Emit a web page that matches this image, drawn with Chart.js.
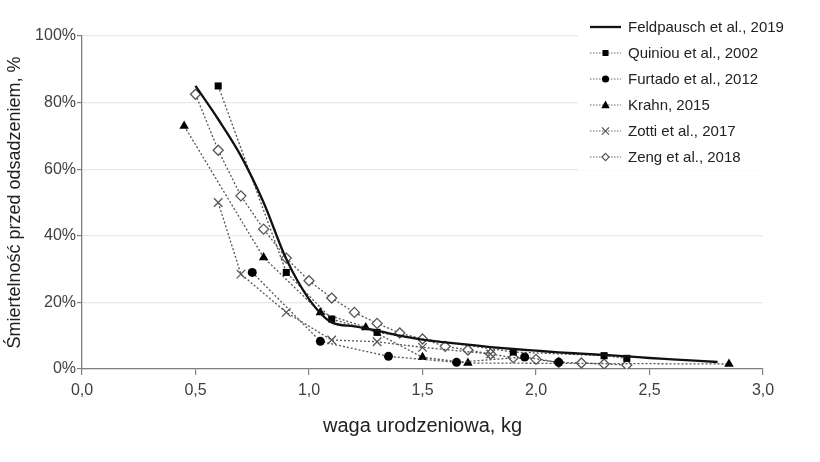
<!DOCTYPE html>
<html>
<head>
<meta charset="utf-8">
<script src="https://cdn.jsdelivr.net/npm/chart.js@4.4.1/dist/chart.umd.min.js"></script>
<style>
html,body{margin:0;padding:0;background:#fff;}
#wrap{width:820px;height:462px;}
</style>
</head>
<body>
<div id="wrap"><canvas id="c" width="820" height="462"></canvas></div>
<script>
// ---- data ----
const seriesNames = ["Feldpausch et al., 2019","Quiniou et al., 2002","Furtado et al., 2012","Krahn, 2015","Zotti et al., 2017","Zeng et al., 2018"];

const feldX = [0.5,0.6,0.7,0.8,0.9,1.0,1.1,1.2,1.3,1.4,1.5,1.6,1.7,1.8,1.9,2.0,2.1,2.2,2.3,2.4,2.5,2.6,2.7,2.8];
const feldY = [85,75,64,50,33,21,14,12.8,11.5,10,8.8,8,7.3,6.6,6,5.5,5,4.6,4.2,3.8,3.3,2.9,2.5,2.1];

const quiX = [0.6,0.9,1.1,1.3,1.9,2.3,2.4];
const quiY = [85,29,15,11,5.1,4,3.2];

const furX = [0.75,1.05,1.35,1.65,1.95,2.1];
const furY = [29,8.3,3.8,2,3.6,2];

const kraX = [0.45,0.8,1.05,1.25,1.5,1.7,2.85];
const kraY = [73,33.5,17,12.5,3.5,1.8,1.5];

const zotX = [0.6,0.7,0.9,1.1,1.3,1.5,1.8];
const zotY = [50,28.5,17,8.7,8.2,6.5,4.5];

const zenX = [0.5,0.6,0.7,0.8,0.9,1.0,1.1,1.2,1.3,1.4,1.5,1.6,1.7,1.8,1.9,2.0,2.1,2.2,2.3,2.4];
const zenY = [82.5,65.7,52,42,33.3,26.5,21.3,17,13.7,10.8,9,6.8,5.7,4.5,3.4,2.9,2,1.8,1.5,1.2];

const xTicks = [0,0.5,1,1.5,2,2.5,3];
const yTicks = [0,20,40,60,80,100];

const pts = (xs, ys) => xs.map((x, i) => ({x: x, y: ys[i]}));

const FONT = "'Liberation Sans', Arial, sans-serif";
const dotted = {borderColor:'#555', borderWidth:1.3, borderDash:[2,2], fill:false, tension:0};

const datasets = [
  {label:seriesNames[0], data:pts(feldX,feldY), borderColor:'#111', borderWidth:2.3, pointRadius:0, cubicInterpolationMode:'monotone', fill:false},
  Object.assign({label:seriesNames[1], data:pts(quiX,quiY), pointStyle:'rect', pointRadius:5, pointBackgroundColor:'#000', pointBorderColor:'#000', pointBorderWidth:0}, dotted),
  Object.assign({label:seriesNames[2], data:pts(furX,furY), pointStyle:'circle', pointRadius:4.5, pointBackgroundColor:'#000', pointBorderColor:'#000', pointBorderWidth:0}, dotted),
  Object.assign({label:seriesNames[3], data:pts(kraX,kraY), pointStyle:'triangle', pointRadius:5.5, pointBackgroundColor:'#000', pointBorderColor:'#000', pointBorderWidth:0}, dotted),
  Object.assign({label:seriesNames[4], data:pts(zotX,zotY), pointStyle:'crossRot', pointRadius:6, pointBackgroundColor:'#555', pointBorderColor:'#555', pointBorderWidth:1.3}, dotted),
  Object.assign({label:seriesNames[5], data:pts(zenX,zenY), pointStyle:'rectRot', pointRadius:5, pointBackgroundColor:'#fff', pointBorderColor:'#555', pointBorderWidth:1.3}, dotted)
];

// custom legend drawn on canvas
function marker(ctx, style, x, y, r) {
  ctx.save();
  ctx.setLineDash([]);
  ctx.beginPath();
  if (style === 'rect') {
    ctx.fillStyle = '#000';
    ctx.fillRect(x - r, y - r, 2*r, 2*r);
  } else if (style === 'circle') {
    ctx.fillStyle = '#000';
    ctx.arc(x, y, r, 0, Math.PI*2); ctx.fill();
  } else if (style === 'triangle') {
    ctx.fillStyle = '#000';
    ctx.moveTo(x, y - r*1.1); ctx.lineTo(x + r, y + r*0.75); ctx.lineTo(x - r, y + r*0.75); ctx.closePath(); ctx.fill();
  } else if (style === 'crossRot') {
    ctx.strokeStyle = '#555'; ctx.lineWidth = 1.2;
    ctx.moveTo(x - r, y - r); ctx.lineTo(x + r, y + r);
    ctx.moveTo(x + r, y - r); ctx.lineTo(x - r, y + r); ctx.stroke();
  } else if (style === 'rectRot') {
    ctx.fillStyle = '#fff'; ctx.strokeStyle = '#555'; ctx.lineWidth = 1.2;
    ctx.moveTo(x, y - r); ctx.lineTo(x + r, y); ctx.lineTo(x, y + r); ctx.lineTo(x - r, y); ctx.closePath();
    ctx.fill(); ctx.stroke();
  }
  ctx.restore();
}

const legendPlugin = {
  id: 'customLegend',
  afterDraw(chart) {
    const ctx = chart.ctx;
    ctx.save();
    ctx.fillStyle = '#fff';
    ctx.fillRect(578, 12, 242, 158);
    const styles = [null,'rect','circle','triangle','crossRot','rectRot'];
    const sizes = [0,3,3.6,4.2,3.6,3.6];
    const x0 = 590, x1 = 621, tx = 628;
    ctx.font = '15px ' + FONT;
    ctx.textBaseline = 'middle';
    for (let i = 0; i < seriesNames.length; i++) {
      const y = 27 + i * 26;
      ctx.beginPath();
      if (i === 0) {
        ctx.setLineDash([]); ctx.strokeStyle = '#111'; ctx.lineWidth = 2.3;
      } else {
        ctx.setLineDash([1.5,1.5]); ctx.strokeStyle = '#666'; ctx.lineWidth = 1.1;
      }
      ctx.moveTo(x0, y); ctx.lineTo(x1, y); ctx.stroke();
      if (i > 0) marker(ctx, styles[i], (x0 + x1) / 2, y, sizes[i]);
      ctx.setLineDash([]);
      ctx.fillStyle = '#222';
      ctx.fillText(seriesNames[i], tx, y + 1);
    }
    ctx.restore();
  }
};

new Chart(document.getElementById('c'), {
  type: 'line',
  data: {datasets: datasets},
  plugins: [legendPlugin],
  options: {
    responsive: false,
    animation: false,
    events: [],
    layout: {padding: {left: 0, right: 57, top: 36, bottom: 0}},
    plugins: {legend: {display: false}, tooltip: {enabled: false}},
    scales: {
      x: {
        type: 'linear', min: 0, max: 3,
        afterBuildTicks: s => { s.ticks = xTicks.map(v => ({value: v})); },
        afterFit: s => { s.height = 93; },
        ticks: {
          color: '#404040', font: {family: FONT, size: 16}, padding: 6,
          callback: v => v.toFixed(1).replace('.', ',')
        },
        grid: {drawOnChartArea: false, drawTicks: true, tickLength: 6, tickColor: '#808080', lineWidth: 1.2},
        border: {color: '#808080', width: 1.3},
        title: {display: true, text: 'waga urodzeniowa, kg', color: '#222', font: {family: FONT, size: 20}, padding: {top: 0, bottom: 24}}
      },
      y: {
        min: 0, max: 100,
        afterBuildTicks: s => { s.ticks = yTicks.map(v => ({value: v})); },
        afterFit: s => { s.width = 82; },
        ticks: {color: '#404040', font: {family: FONT, size: 16}, padding: 1, callback: v => v + '%'},
        grid: {color: '#e8e8e8', lineWidth: 1.2, tickLength: 5, tickColor: '#808080'},
        border: {color: '#808080', width: 1.3},
        title: {display: true, text: 'Śmiertelność przed odsadzeniem, %', color: '#222', font: {family: FONT, size: 18}, padding: {top: 4, bottom: 0}}
      }
    }
  }
});
</script>
</body>
</html>
